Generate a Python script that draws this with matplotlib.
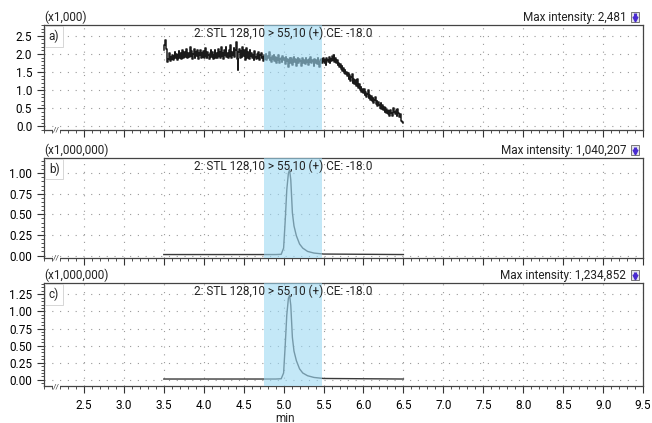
import numpy as np
import matplotlib
matplotlib.use("Agg")
import matplotlib.pyplot as plt
from matplotlib.ticker import MultipleLocator, AutoMinorLocator, FormatStrFormatter
from matplotlib.patches import Rectangle

plt.rcParams['font.family'] = ['Roboto', 'DejaVu Sans']
plt.rcParams['font.size'] = 8.5

# --- data -------------------------------------------------------------
# panel a: noisy trace, sampled every 0.01 min from 3.50 to 6.50 (x1,000)
time_a = np.round(np.arange(3.50, 6.5001, 0.01), 2)
signal_a = [
    2.10, 2.25, 2.38, 2.15, 2.00, 1.78, 1.85, 2.02, 1.80, 1.92,
    1.85, 1.98, 1.82, 1.95, 2.05, 1.88, 2.00, 1.84, 1.96, 2.08,
    1.90, 2.02, 1.86, 2.12, 1.94, 1.88, 2.06, 1.92, 2.15, 1.96,
    1.88, 2.04, 1.92, 2.18, 1.95, 2.08, 1.86, 2.00, 2.14, 1.90,
    2.06, 1.94, 2.12, 1.87, 2.02, 1.96, 2.10, 1.89, 2.04, 1.92,
    2.08, 1.90, 2.16, 1.94, 1.88, 2.06, 1.98, 1.86, 2.02, 2.12,
    1.92, 2.05, 1.85, 1.98, 2.10, 1.90, 2.04, 1.88, 2.14, 1.95,
    2.06, 1.90, 2.18, 1.94, 2.02, 1.86, 2.10, 1.96, 2.20, 1.92,
    2.04, 1.88, 2.12, 1.94, 2.24, 1.90, 2.06, 1.98, 2.16, 1.92,
    2.10, 2.32, 1.85, 1.56, 2.05, 2.14, 1.88, 2.08, 1.92, 2.20,
    1.95, 2.10, 1.84, 2.02, 2.16, 1.90, 2.05, 1.86, 2.12, 1.94,
    2.04, 1.88, 1.98, 1.82, 2.08, 1.92, 1.86, 2.00, 1.90, 2.06,
    1.84, 1.96, 2.02, 1.88, 1.92, 1.80, 1.98, 1.86, 2.00, 1.82,
    1.95, 1.88, 2.05, 1.84, 1.90, 1.78, 1.94, 1.86, 1.98, 1.80,
    1.92, 1.76, 1.88, 1.84, 1.96, 1.74, 1.86, 1.90, 1.78, 1.94,
    1.82, 1.88, 1.72, 1.92, 1.80, 1.86, 1.64, 1.84, 1.90, 1.76,
    1.88, 1.70, 1.84, 1.92, 1.78, 1.86, 1.68, 1.82, 1.90, 1.74,
    1.86, 1.80, 1.66, 1.84, 1.90, 1.76, 1.82, 1.72, 1.88, 1.78,
    1.84, 1.70, 1.86, 1.78, 1.92, 1.74, 1.82, 1.80, 1.68, 1.86,
    1.76, 1.84, 1.72, 1.88, 1.78, 1.64, 1.82, 1.86, 1.74, 1.80,
    1.88, 1.76, 1.84, 1.70, 1.90, 1.82, 1.78, 1.92, 1.74, 1.86,
    1.80, 1.94, 1.84, 1.96, 1.78, 1.88, 1.74, 1.82, 1.70, 1.76,
    1.64, 1.72, 1.58, 1.66, 1.52, 1.60, 1.48, 1.56, 1.44, 1.50,
    1.38, 1.48, 1.30, 1.42, 1.24, 1.36, 1.44, 1.20, 1.32, 1.18,
    1.28, 1.12, 1.22, 1.30, 1.06, 1.16, 1.00, 1.10, 0.96, 1.04,
    0.92, 1.02, 0.86, 0.96, 0.80, 0.90, 1.00, 0.78, 0.88, 0.72,
    0.84, 0.70, 0.78, 0.64, 0.74, 0.80, 0.62, 0.70, 0.56, 0.66,
    0.60, 0.52, 0.64, 0.48, 0.58, 0.44, 0.54, 0.40, 0.50, 0.36,
    0.46, 0.34, 0.42, 0.30, 0.44, 0.38, 0.28, 0.46, 0.50, 0.40,
    0.34, 0.44, 0.30, 0.48, 0.38, 0.26, 0.34, 0.20, 0.16, 0.12,
    0.08,
]

# panels b and c: single peak (x1,000,000)
time_peak = [3.50, 4.90, 4.97, 5.00, 5.02, 5.04, 5.06, 5.075, 5.09, 5.11,
             5.13, 5.16, 5.20, 5.24, 5.30, 5.38, 5.50, 6.50]
signal_b = [0.012, 0.012, 0.015, 0.09, 0.42, 0.80, 1.00, 1.04, 0.92, 0.52,
            0.36, 0.24, 0.14, 0.09, 0.05, 0.03, 0.018, 0.012]
signal_c = [0.012, 0.012, 0.016, 0.10, 0.50, 0.95, 1.19, 1.235, 1.09, 0.62,
            0.42, 0.28, 0.16, 0.10, 0.06, 0.035, 0.02, 0.012]

panel_labels = ['a)', 'b)', 'c)']
scale_labels = ['(x1,000)', '(x1,000,000)', '(x1,000,000)']
max_labels = ['Max intensity: 2,481', 'Max intensity: 1,040,207', 'Max intensity: 1,234,852']
trace_title = '2: STL 128,10 > 55,10 (+) CE: -18.0'
window = (4.75, 5.48)

# --- figure -----------------------------------------------------------
fig = plt.figure(figsize=(6.52, 4.23), dpi=100)
W, H = 652, 423

def make_axes(top, bottom):
    return fig.add_axes([44 / W, 1 - bottom / H, 599 / W, (bottom - top) / H])

ax_a = make_axes(25, 130)
ax_b = make_axes(158, 258)
ax_c = make_axes(283, 386)
axes = [ax_a, ax_b, ax_c]

ax_a.plot(time_a, signal_a, color='#1a1a1a', lw=1.1, drawstyle='steps-mid', zorder=2)
ax_b.plot(time_peak, signal_b, color='#3a3a3a', lw=1.0, zorder=2)
ax_c.plot(time_peak, signal_c, color='#3a3a3a', lw=1.0, zorder=2)

ax_a.set_ylim(-0.1, 2.8)
ax_a.yaxis.set_major_locator(MultipleLocator(0.5))
ax_a.yaxis.set_major_formatter(FormatStrFormatter('%.1f'))
ax_b.set_ylim(-0.03, 1.185)
ax_b.yaxis.set_major_locator(MultipleLocator(0.25))
ax_b.yaxis.set_major_formatter(FormatStrFormatter('%.2f'))
ax_c.set_ylim(-0.09, 1.415)
ax_c.yaxis.set_major_locator(MultipleLocator(0.25))
ax_c.yaxis.set_major_formatter(FormatStrFormatter('%.2f'))

for i, ax in enumerate(axes):
    ax.set_xlim(2.0, 9.5)
    ax.set_xticks(np.arange(2.5, 9.51, 0.5))
    ax.xaxis.set_minor_locator(MultipleLocator(0.1))
    ax.yaxis.set_minor_locator(AutoMinorLocator(5))
    ax.tick_params(which='major', direction='out', length=5, width=0.8, color='#333333')
    ax.tick_params(which='minor', direction='out', length=2.5, width=0.6, color='#333333')
    ax.tick_params(axis='x', which='major', pad=4.5)
    ax.xaxis.set_major_formatter(FormatStrFormatter('%.1f'))
    if i < 2:
        ax.tick_params(axis='x', labelbottom=False)
    for s in ax.spines.values():
        s.set_color('#444444')
        s.set_linewidth(0.9)
    ax.grid(True, which='major', color='#9a9a9a', linestyle=(0, (1, 6)), lw=0.8)
    ax.set_axisbelow(True)

    # highlighted integration window
    ax.axvspan(*window, color='#9dd9f3', alpha=0.6, lw=0, zorder=3)

    ax.text(0.399, 0.985, trace_title, transform=ax.transAxes, ha='center', va='top',
            color='#222222', zorder=5)
    ax.text(0.008, 0.955, panel_labels[i], transform=ax.transAxes, ha='left', va='top',
            color='#222222', zorder=5,
            bbox=dict(boxstyle='square,pad=0.3', fc='white', ec='#d0d0d0', lw=0.6))
    ax.text(0.0, 1.01, scale_labels[i], transform=ax.transAxes, ha='left', va='bottom',
            color='#222222')
    ax.text(0.972, 1.01, max_labels[i], transform=ax.transAxes, ha='right', va='bottom',
            color='#222222')

    # small marker button next to max intensity
    ax.add_patch(Rectangle((0.98, 1.03), 0.013, 0.095, transform=ax.transAxes,
                           fc='#e4e4ec', ec='#777777', lw=0.7, clip_on=False))
    ax.plot([0.9865, 0.9865], [1.11, 1.065], color='#4a2bd0', lw=2.2,
            transform=ax.transAxes, clip_on=False, solid_capstyle='butt')
    ax.plot([0.9865], [1.06], marker='v', ms=3.5, color='#4a2bd0', lw=0,
            transform=ax.transAxes, clip_on=False)

    # axis break marks
    ax.text(0.015, 0.0, '//', transform=ax.transAxes, ha='left', va='center',
            fontsize=6, color='#444444', zorder=6,
            bbox=dict(boxstyle='square,pad=0.05', fc='white', ec='none'))

fig.text(285 / W, 1.5 / H, 'min', ha='center', va='baseline', color='#222222')

fig.savefig('out.png', dpi=100)
